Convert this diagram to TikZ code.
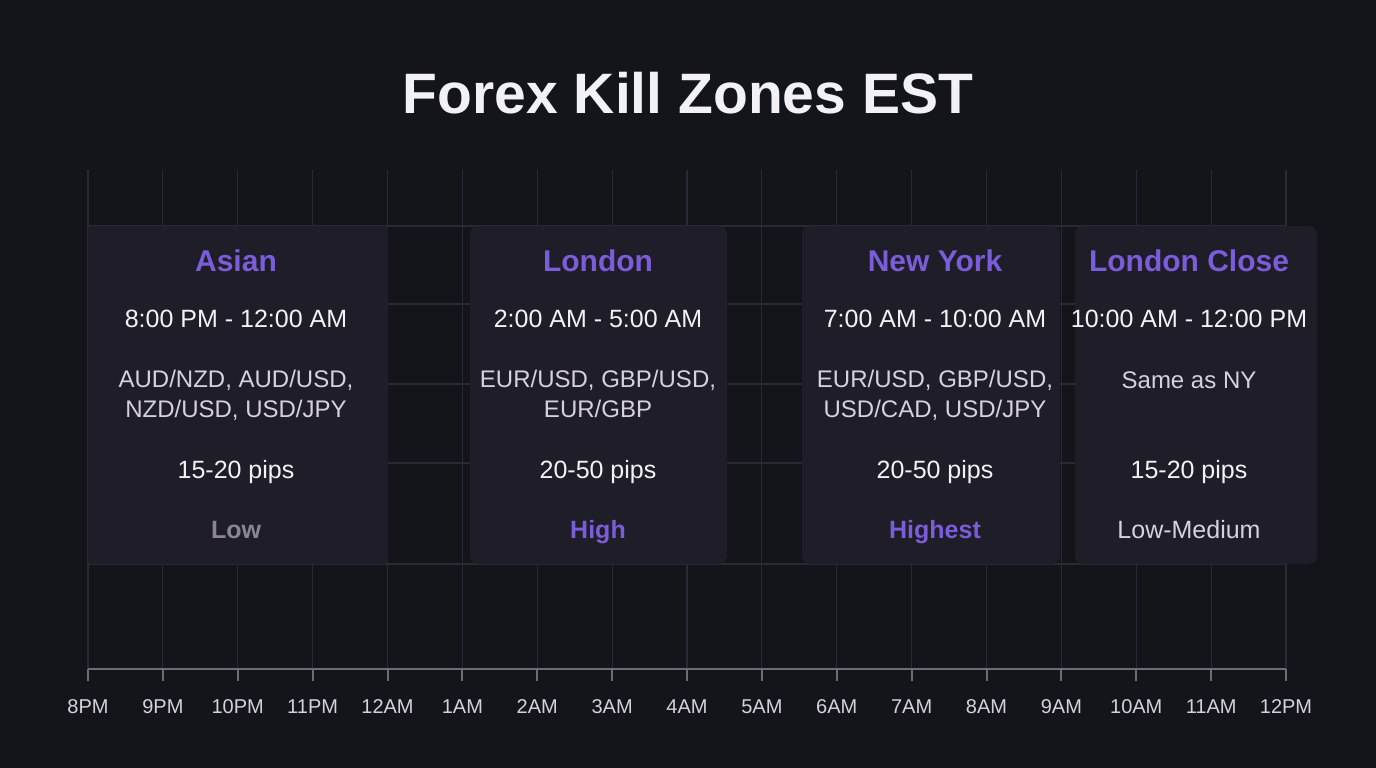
\documentclass[tikz,border=0pt]{standalone}
\usepackage{fontspec}
\setmainfont{Liberation Sans}
\definecolor{bgcol}{HTML}{14141B}
\definecolor{cardcol}{HTML}{1F1E28}
\definecolor{gridcol}{HTML}{2A2A34}
\definecolor{axiscol}{HTML}{6C6B76}
\definecolor{zonepurple}{HTML}{7B5CD9}
\definecolor{textwhite}{HTML}{F2F2F6}
\definecolor{textgray}{HTML}{D5D1DD}
\definecolor{lowgray}{HTML}{8A8591}
\tikzset{
  card/.style={fill=cardcol, rounded corners=8pt, inner sep=0pt, minimum height=338pt},
  gridline/.style={draw=gridcol, line width=1.2pt},
  axisline/.style={draw=axiscol, line width=2pt},
  zonehead/.style={anchor=base, text=zonepurple, font=\fontsize{30}{36}\selectfont\bfseries},
  zonetime/.style={anchor=base, text=textwhite, font=\fontsize{25}{30}\selectfont},
  zonepairs/.style={anchor=base, text=textgray, align=center, font=\fontsize{24}{30}\selectfont},
  zonepips/.style={anchor=base, text=textwhite, font=\fontsize{25}{30}\selectfont},
  zonelevel/.style={anchor=base, font=\fontsize{25}{30}\selectfont\bfseries},
  hourlabel/.style={anchor=base, text=textgray, font=\fontsize{20}{24}\selectfont}
}
\begin{document}
\begin{tikzpicture}[x=1pt, y=-1pt]
  \fill[bgcol] (0,0) rectangle (1376,768);
  \useasboundingbox (0,0) rectangle (1376,768);

  \node[anchor=base, text=textwhite, font=\fontsize{57}{64}\selectfont\bfseries] (title) at (688,113) {Forex Kill Zones EST};

  % grid
  \foreach \h in {0,...,16}
    \draw[gridline] ({88+\h*74.875},170) -- ({88+\h*74.875},669);
  \foreach \y in {226,304,384,463,564}
    \draw[gridline] (88,\y) -- (1286,\y);

  % time axis
  \draw[axisline] (88,669) -- (1286,669);
  \foreach \lab [count=\i from 0] in {8PM,9PM,10PM,11PM,12AM,1AM,2AM,3AM,4AM,5AM,6AM,7AM,8AM,9AM,10AM,11AM,12PM} {
    \draw[axisline] ({88+\i*74.875},669) -- ++(0,12);
    \node[hourlabel] (hour\i) at ({88+\i*74.875},713) {\lab};
  }

  % sessions
  \node[card, minimum width=300pt, rounded corners=3pt] (asian) at (238,395) {};
  \node[card, minimum width=257pt] (london) at (598.5,395) {};
  \node[card, minimum width=258pt] (newyork) at (931,395) {};
  \node[card, minimum width=242pt] (lclose) at (1196,395) {};

  \node[zonehead] (asianhead) at (236,271) {Asian};
  \node[zonetime] (asiantime) at (236,327) {8:00 PM - 12:00 AM};
  \node[zonepairs] (asianpairs) at (236,417) {AUD/NZD, AUD/USD,\\NZD/USD, USD/JPY};
  \node[zonepips] (asianpips) at (236,478) {15-20 pips};
  \node[zonelevel, text=lowgray] (asianlevel) at (236,538) {Low};

  \node[zonehead] (londonhead) at (598,271) {London};
  \node[zonetime] (londontime) at (598,327) {2:00 AM - 5:00 AM};
  \node[zonepairs] (londonpairs) at (598,417) {EUR/USD, GBP/USD,\\EUR/GBP};
  \node[zonepips] (londonpips) at (598,478) {20-50 pips};
  \node[zonelevel, text=zonepurple] (londonlevel) at (598,538) {High};

  \node[zonehead] (nyhead) at (935,271) {New York};
  \node[zonetime] (nytime) at (935,327) {7:00 AM - 10:00 AM};
  \node[zonepairs] (nypairs) at (935,417) {EUR/USD, GBP/USD,\\USD/CAD, USD/JPY};
  \node[zonepips] (nypips) at (935,478) {20-50 pips};
  \node[zonelevel, text=zonepurple] (nylevel) at (935,538) {Highest};

  \node[zonehead] (lclosehead) at (1189,271) {London Close};
  \node[zonetime] (lclosetime) at (1189,327) {10:00 AM - 12:00 PM};
  \node[zonepairs] (lclosepairs) at (1189,388) {Same as NY};
  \node[zonepips] (lclosepips) at (1189,478) {15-20 pips};
  \node[zonelevel, font=\fontsize{25}{30}\selectfont, text=textgray] (lcloselevel) at (1189,538) {Low-Medium};
\end{tikzpicture}
\end{document}
